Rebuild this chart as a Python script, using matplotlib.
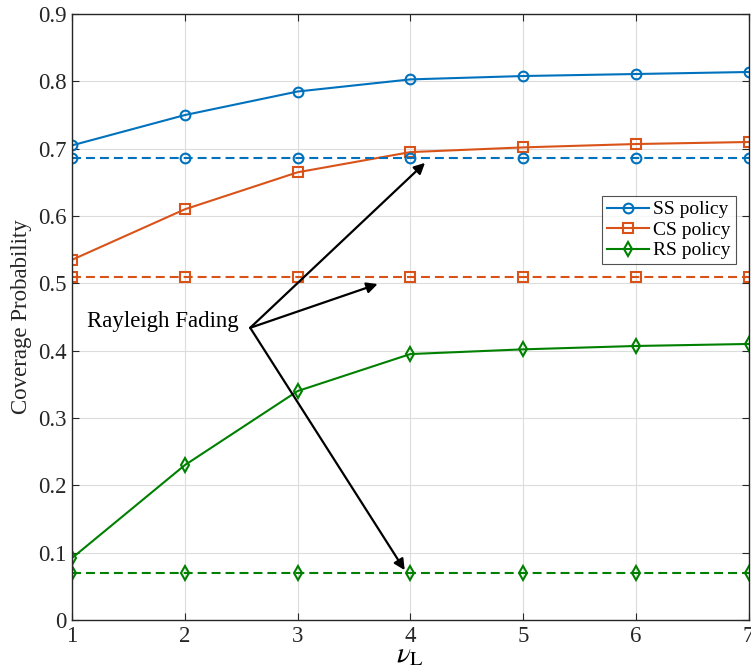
import matplotlib.pyplot as plt
import numpy as np

plt.rcParams['font.family'] = ['Liberation Serif', 'DejaVu Serif']
plt.rcParams['mathtext.fontset'] = 'stix'

# data
nu_L = [1, 2, 3, 4, 5, 6, 7]
ss_policy = [0.705, 0.750, 0.785, 0.803, 0.808, 0.811, 0.814]
cs_policy = [0.535, 0.610, 0.665, 0.695, 0.702, 0.707, 0.710]
rs_policy = [0.092, 0.230, 0.340, 0.395, 0.402, 0.407, 0.410]
ss_rayleigh = [0.686] * 7
cs_rayleigh = [0.510] * 7
rs_rayleigh = [0.070] * 7

c_ss = '#0072BD'
c_cs = '#D95319'
c_rs = '#008000'

fig = plt.figure(figsize=(7.51, 6.68), dpi=100)
ax = fig.add_axes([0.0959, 0.0719, 0.901, 0.907])

mk = dict(markersize=7, markerfacecolor='none', markeredgewidth=1.5, linewidth=1.5)
ax.plot(nu_L, ss_policy, '-o', color=c_ss, label='SS policy', **mk)
ax.plot(nu_L, cs_policy, '-s', color=c_cs, label='CS policy', **mk)
ax.plot(nu_L, rs_policy, '-d', color=c_rs, label='RS policy', **mk)
for vals, m, c in [(ss_rayleigh, 'o', c_ss), (cs_rayleigh, 's', c_cs), (rs_rayleigh, 'd', c_rs)]:
    ax.plot(nu_L, vals, '--', marker=m, color=c, dashes=(4.3, 2.4), **mk)

ax.set_xlim(1, 7)
ax.set_ylim(0, 0.9)
ax.set_xticks(nu_L)
ax.set_yticks(np.arange(0, 0.91, 0.1))
ax.set_yticklabels(['0'] + ['%.1f' % v for v in np.arange(0.1, 0.91, 0.1)])
ax.grid(True, color='#dcdcdc', linewidth=0.8)
ax.tick_params(labelsize=16.5, direction='in', length=5, color='#262626',
               labelcolor='#262626', right=True, top=True, pad=4)
for s in ax.spines.values():
    s.set_color('#262626')
    s.set_linewidth(1.0)

ax.set_xlabel(r'$\nu_{\rm L}$', fontsize=21, labelpad=-3)
ax.set_ylabel('Coverage Probability', fontsize=16.5, color='#262626', labelpad=4)

# annotation arrows
tail = (2.58, 0.434)
heads = [(4.13, 0.679), (3.71, 0.499), (3.95, 0.074)]
ax.text(1.13, 0.444, 'Rayleigh Fading', fontsize=16.5, va='center', ha='left')
for h in heads:
    ax.annotate('', xy=h, xytext=tail,
                arrowprops=dict(arrowstyle='-|>', color='black', lw=1.6,
                                mutation_scale=16, shrinkA=0, shrinkB=0))

leg = ax.legend(loc='upper left', bbox_to_anchor=(0.783, 0.70), fontsize=14,
                frameon=True, fancybox=False, edgecolor='#262626',
                handlelength=2.2, borderpad=0.25, labelspacing=0.15,
                handletextpad=0.2, borderaxespad=0)
leg.get_frame().set_linewidth(0.8)

fig.savefig('out.png', dpi=100)
